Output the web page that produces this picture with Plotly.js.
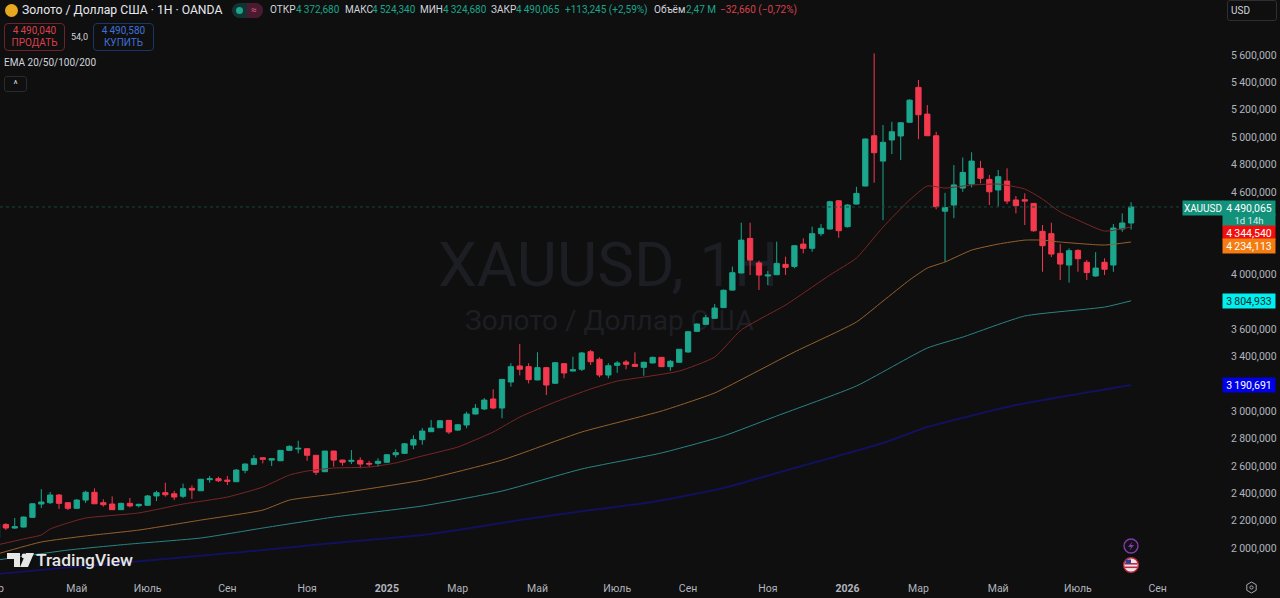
<!DOCTYPE html>
<html>
<head>
<meta charset="utf-8">
<script src="https://cdn.plot.ly/plotly-3.0.1.min.js"></script>
<style>
html,body{margin:0;padding:0;width:1280px;height:598px;overflow:hidden;background:#0f0f0f;font-family:Roboto,sans-serif}
#chart{position:absolute;left:0;top:0;width:1280px;height:598px;z-index:1}
.t{position:absolute;white-space:nowrap;z-index:2;font-size:10px;line-height:12px;color:#d1d4dc}
.g{color:#1ba68d}.r{color:#d9404e}
.mark{position:absolute;white-space:nowrap;z-index:0;font-family:Roboto,sans-serif;color:#1d1e24}
.btn{position:absolute;z-index:2;top:23px;width:59px;height:25px;border:1px solid;border-radius:4px;text-align:center;font-size:10px;line-height:12px;padding-top:1px}
</style>
</head>
<body>
<div class="mark" style="left:438px;top:230px;font-size:62px;line-height:70px">XAUUSD, 1Н</div>
<div class="mark" style="left:465px;top:304px;font-size:28px;line-height:33px">Золото / Доллар США</div>

<div style="position:absolute;z-index:2;left:5px;top:4px;width:13px;height:13px;border-radius:50%;background:#e8a820"></div>
<div class="t" style="left:22px;top:3px;font-size:12.2px;line-height:15px;color:#e6e8ee">Золото / Доллар США · 1Н · OANDA</div>
<div style="position:absolute;z-index:2;left:232px;top:3px;width:31px;height:15px;border-radius:8px;background:#143330"></div>
<div style="position:absolute;z-index:2;left:236px;top:7px;width:7px;height:7px;border-radius:50%;background:#1ba68d"></div>
<div style="position:absolute;z-index:2;left:247px;top:3px;width:16px;height:15px;border-radius:0 8px 8px 0;background:#4a1a30"></div>
<div class="t" style="left:251px;top:4px;color:#e0607a">≈</div>
<div class="t" style="left:270px;top:4px">ОТКР</div><div class="t g" style="left:296px;top:4px">4&#8201;372,680</div>
<div class="t" style="left:345px;top:4px">МАКС</div><div class="t g" style="left:372px;top:4px">4&#8201;524,340</div>
<div class="t" style="left:420px;top:4px">МИН</div><div class="t g" style="left:443px;top:4px">4&#8201;324,680</div>
<div class="t" style="left:491px;top:4px">ЗАКР</div><div class="t g" style="left:516px;top:4px">4&#8201;490,065</div>
<div class="t g" style="left:565px;top:4px">+113,245 (+2,59%)</div>
<div class="t" style="left:654px;top:4px">Объём</div><div class="t g" style="left:686px;top:4px">2,47 M</div>
<div class="t r" style="left:720px;top:4px">−32,660 (−0,72%)</div>

<div class="btn" style="left:4px;border-color:#6e2229;color:#d9404e">4&#8201;490,040<br>ПРОДАТЬ</div>
<div class="t" style="left:71px;top:31px;font-size:9px">54,0</div>
<div class="btn" style="left:93px;border-color:#1c3568;color:#3f6fd8">4&#8201;490,580<br>КУПИТЬ</div>
<div class="t" style="left:4px;top:57px">EMA 20/50/100/200</div>
<div class="t" style="left:4px;top:76px;width:21px;height:14px;border:1px solid #2a2a2e;border-radius:3px;text-align:center;line-height:15px">^</div>

<div class="t" style="left:1227px;top:0;width:48px;height:19px;border:1px solid #2f2f33;border-radius:3px;line-height:19px;text-indent:3px">USD</div>

<svg style="position:absolute;z-index:2;left:7px;top:552px" width="30" height="17" viewBox="0 0 30 17">
<path d="M0 1H13V15H7V7H0Z M19 1H27L21 15H13Z" fill="#e6e6e6"/><circle cx="17" cy="4" r="2.4" fill="#e6e6e6"/>
</svg>
<div class="t" style="left:36px;top:550px;font-size:17.4px;line-height:20px;font-weight:500;color:#e6e6e6">TradingView</div>

<svg style="position:absolute;z-index:2;left:1122px;top:537px" width="18" height="37" viewBox="0 0 18 37">
<circle cx="9" cy="9" r="7" fill="#16101c" stroke="#7c3fa6" stroke-width="1.4"/><path d="M10.5 4.5 6 10H9L7.5 13.5 12 8H9Z" fill="#7c3fa6"/>
<circle cx="9" cy="28" r="7.3" fill="#e8e8f0" stroke="#c4283a" stroke-width="1.4"/><rect x="3" y="26" width="12" height="1.6" fill="#c4283a"/><rect x="3" y="29.5" width="12" height="1.6" fill="#c4283a"/><rect x="3.5" y="22.5" width="5.5" height="4" fill="#2a3f90"/>
</svg>
<svg style="position:absolute;z-index:2;left:1245px;top:581px" width="13" height="13" viewBox="0 0 13 13">
<path d="M6.5 1 11.2 3.7V9.3L6.5 12 1.8 9.3V3.7Z" fill="none" stroke="#a6a8b0"/><circle cx="6.5" cy="6.5" r="1.6" fill="none" stroke="#a6a8b0"/>
</svg>

<div id="chart"></div>

<script>
// weekly XAUUSD candles
var opens = [2073,2172,2146,2153,2224,2321,2331,2387,2331,2290,
2350,2407,2331,2321,2280,2326,2309,2312,2380,2404,
2396,2378,2436,2418,2499,2506,2496,2484,2567,2611,
2659,2642,2637,2713,2723,2725,2677,2557,2708,2642,
2633,2640,2618,2618,2626,2681,2691,2752,2791,2849,
2878,2932,2861,2898,2978,3015,3088,3022,3212,3329,
3324,3227,3317,3203,3346,3292,3305,3433,3378,3263,
3334,3358,3341,3319,3351,3392,3324,3356,3431,3582,
3633,3677,3755,3883,4008,4260,4081,3986,3995,4071,
4056,4219,4188,4295,4329,4535,4346,4511,4643,5010,
4825,4979,5008,5108,5363,5168,5010,4459,4504,4628,
4657,4772,4691,4614,4679,4541,4543,4516,4312,4295,
4151,4066,4173,4086,3986,4086,4066,4329,4372.68];
var highs = [2182,2182,2219,2230,2326,2429,2409,2394,2336,2358,
2418,2436,2356,2377,2331,2365,2323,2387,2418,2477,
2418,2470,2458,2504,2526,2521,2526,2577,2618,2679,
2662,2652,2715,2750,2783,2726,2679,2708,2708,2645,
2715,2662,2637,2655,2686,2721,2766,2823,2876,2934,
2934,2934,2905,2995,3051,3095,3159,3233,3349,3489,
3349,3429,3322,3358,3351,3397,3431,3446,3392,3349,
3365,3373,3429,3361,3397,3395,3373,3453,3585,3640,
3701,3781,3887,4055,4375,4375,4098,4023,4236,4127,
4212,4261,4346,4365,4535,4540,4510,4637,4990,5611,
5088,5112,5107,5275,5417,5234,5039,4593,4796,4851,
4889,4827,4723,4760,4772,4570,4589,4520,4358,4375,
4219,4188,4181,4103,4160,4115,4365,4443,4524.34];
var lows = [2066,2131,2139,2150,2220,2292,2321,2285,2277,2287,
2329,2321,2302,2277,2277,2297,2297,2309,2343,2375,
2350,2365,2358,2416,2477,2482,2460,2482,2545,2606,
2618,2599,2635,2710,2691,2637,2533,2555,2594,2601,
2613,2582,2594,2594,2621,2662,2688,2721,2754,2849,
2876,2832,2854,2874,2976,3007,3013,2947,3178,3261,
3202,3224,3117,3197,3239,3290,3292,3336,3246,3239,
3280,3305,3324,3258,3349,3321,3294,3354,3426,3578,
3628,3672,3752,3880,4005,3993,3884,3920,3993,3993,
4042,4151,4163,4278,4325,4265,4340,4509,4640,4667,
4394,4876,4832,5105,4985,5008,4473,4090,4408,4601,
4633,4662,4504,4492,4511,4443,4358,4309,4017,4124,
3957,3938,4017,3957,3981,3993,4017,4309,4324.68];
var closes = [2175,2146,2156,2226,2323,2336,2387,2326,2290,2350,
2407,2323,2316,2280,2326,2307,2319,2380,2404,2389,
2372,2433,2423,2502,2506,2491,2487,2569,2613,2652,
2648,2652,2713,2742,2728,2677,2553,2708,2642,2626,
2640,2613,2613,2633,2681,2696,2761,2791,2854,2876,
2929,2847,2900,2978,3020,3080,3022,3231,3324,3305,
3229,3317,3190,3353,3278,3302,3424,3360,3263,3331,
3351,3341,3326,3356,3392,3324,3363,3451,3579,3635,
3681,3752,3882,4010,4248,4102,3993,3993,4078,4049,
4207,4188,4295,4334,4528,4317,4504,4589,4986,4886,
4962,5039,5105,5270,5163,5010,4492,4486,4651,4742,
4825,4699,4601,4711,4533,4499,4533,4316,4207,4146,
4073,4171,4112,4011,4044,4035,4336,4373,4490.065];

// EMA lines, sampled at these bar numbers
var ema20Bars = [0,3,5,6,8,10,16,21,26,30,33,35,38,42,45,48,52,56,59,63,67,70,73,77,81,84,89,94,97,100,103,105,107,110,113,116,118,120,122,125,128];
var ema20 = [2022,2066,2095,2139,2183,2219,2256,2321,2372,2445,2533,2562,2584,2591,2621,2672,2737,2847,2956,3066,3161,3219,3248,3292,3394,3592,3774,3993,4117,4343,4541,4643,4628,4650,4657,4621,4548,4453,4394,4314,4344.54];
var ema50Bars = [0,5,10,16,23,30,33,38,48,57,66,75,81,85,90,97,100,103,105,107,110,113,116,118,120,125,128];
var ema50 = [1956,2044,2088,2131,2204,2277,2350,2394,2496,2642,2847,3000,3132,3263,3431,3650,3803,3957,4044,4088,4175,4219,4248,4248,4234,4212,4234.113];
var ema100Bars = [0,8,15,23,30,38,48,57,66,75,82,88,97,105,109,116,125,128];
var ema100 = [1912,1985,2029,2073,2146,2226,2307,2416,2577,2694,2818,2964,3183,3460,3540,3694,3759,3804.933];
var ema200Bars = [0,11,19,30,38,48,52,59,67,74,82,88,90,100,105,115,128];
var ema200 = [1810,1876,1920,1985,2037,2095,2131,2204,2277,2336,2438,2548,2584,2767,2883,3044,3190.691];

var priceTicks = [2000,2200,2400,2600,2800,3000,3400,3600,4000,4600,4800,5000,5200,5400,5600];
var priceLabels = ['2\u2009000,000','2\u2009200,000','2\u2009400,000','2\u2009600,000','2\u2009800,000','3\u2009000,000','3\u2009400,000','3\u2009600,000','4\u2009000,000','4\u2009600,000','4\u2009800,000','5\u2009000,000','5\u2009200,000','5\u2009400,000','5\u2009600,000'];
var timeTicks = [9,17,26,35,44,52,61,70,78,87,96,104,113,122,131];
var timeLabels = ['Май','Июль','Сен','Ноя','<b>2025</b>','Мар','Май','Июль','Сен','Ноя','<b>2026</b>','Мар','Май','Июль','Сен'];

var bars = [];
for (var i = 0; i < closes.length; i++) bars.push(i);

var candles = {
	type: 'candlestick',
	x: bars, open: opens, high: highs, low: lows, close: closes,
	whiskerwidth: 0,
	increasing: {line: {color: '#1ba68d', width: 1}, fillcolor: '#1ba68d'},
	decreasing: {line: {color: '#f4394f', width: 1}, fillcolor: '#f4394f'},
	hoverinfo: 'skip'
};
function emaTrace(x, y, color, w){
	return {type: 'scatter', mode: 'lines', x: x, y: y, line: {color: color, width: w, shape: 'spline', smoothing: 0.5}, hoverinfo: 'skip'};
}
var data = [
	candles,
	emaTrace(ema200Bars, ema200, '#11115c', 2),
	emaTrace(ema100Bars, ema100, '#2a8485', 1),
	emaTrace(ema50Bars, ema50, '#96602c', 1),
	emaTrace(ema20Bars, ema20, '#7a2627', 1)
];

function tag(text, price, bg, color, shift, h){
	return {xref: 'paper', yref: 'y', x: 1249/1222, xanchor: 'center', y: price, yshift: shift || 0, text: text, showarrow: false,
		width: 52, height: h || 14, bgcolor: bg, borderpad: 0, font: {color: color, size: 10.5, family: 'Roboto'}};
}
var closeTag = tag('4\u2009490,065', 4490.065, '#12917b', '#fff', -1);
var timerTag = tag('1d 14h', 4490.065, '#12917b', '#d8f0ea', -13, 12);
timerTag.font.size = 9.5;
var nameTag = tag('XAUUSD', 4490.065, '#12917b', '#fff', -1);
nameTag.x = 1203/1222;
nameTag.width = 40;
nameTag.font.size = 10;

var layout = {
	width: 1280, height: 598,
	margin: {l: 0, r: 58, t: 0, b: 23, pad: 0},
	paper_bgcolor: 'rgba(0,0,0,0)',
	plot_bgcolor: 'rgba(0,0,0,0)',
	showlegend: false,
	boxgap: 0.15,
	font: {family: 'Roboto, sans-serif', size: 10.5, color: '#b2b5be'},
	xaxis: {
		range: [0.3386, 138.26],
		rangeslider: {visible: false},
		tickmode: 'array', tickvals: timeTicks, ticktext: timeLabels,
		showgrid: false, zeroline: false, showline: false,
		ticks: 'outside', ticklen: 3, tickcolor: 'rgba(0,0,0,0)'
	},
	yaxis: {
		side: 'right',
		range: [1803, 6001],
		tickmode: 'array', tickvals: priceTicks, ticktext: priceLabels,
		showgrid: false, zeroline: false, showline: false,
		ticks: 'outside', ticklen: 6, tickcolor: 'rgba(0,0,0,0)'
	},
	shapes: [{type: 'line', xref: 'paper', yref: 'y', x0: 0, x1: 1, y0: 4490.065, y1: 4490.065,
		line: {color: '#17463e', width: 1, dash: 'dot'}}],
	annotations: [
		closeTag, timerTag, nameTag,
		tag('4\u2009344,540', 4344.54, '#f00f0f', '#fff', -6),
		tag('4\u2009234,113', 4234.113, '#f57c10', '#fff', -4),
		tag('3\u2009804,933', 3804.933, '#00f0f0', '#0f2a2a'),
		tag('3\u2009190,691', 3190.691, '#0000e6', '#fff'),
		{xref: 'paper', yref: 'paper', x: 0, y: 0, yanchor: 'top', yshift: -5, xanchor: 'right', xshift: 6,
			text: 'Мар', showarrow: false, font: {size: 10.5, color: '#b2b5be'}}
	]
};

Plotly.newPlot('chart', data, layout, {displayModeBar: false, staticPlot: true});
</script>
</body>
</html>
